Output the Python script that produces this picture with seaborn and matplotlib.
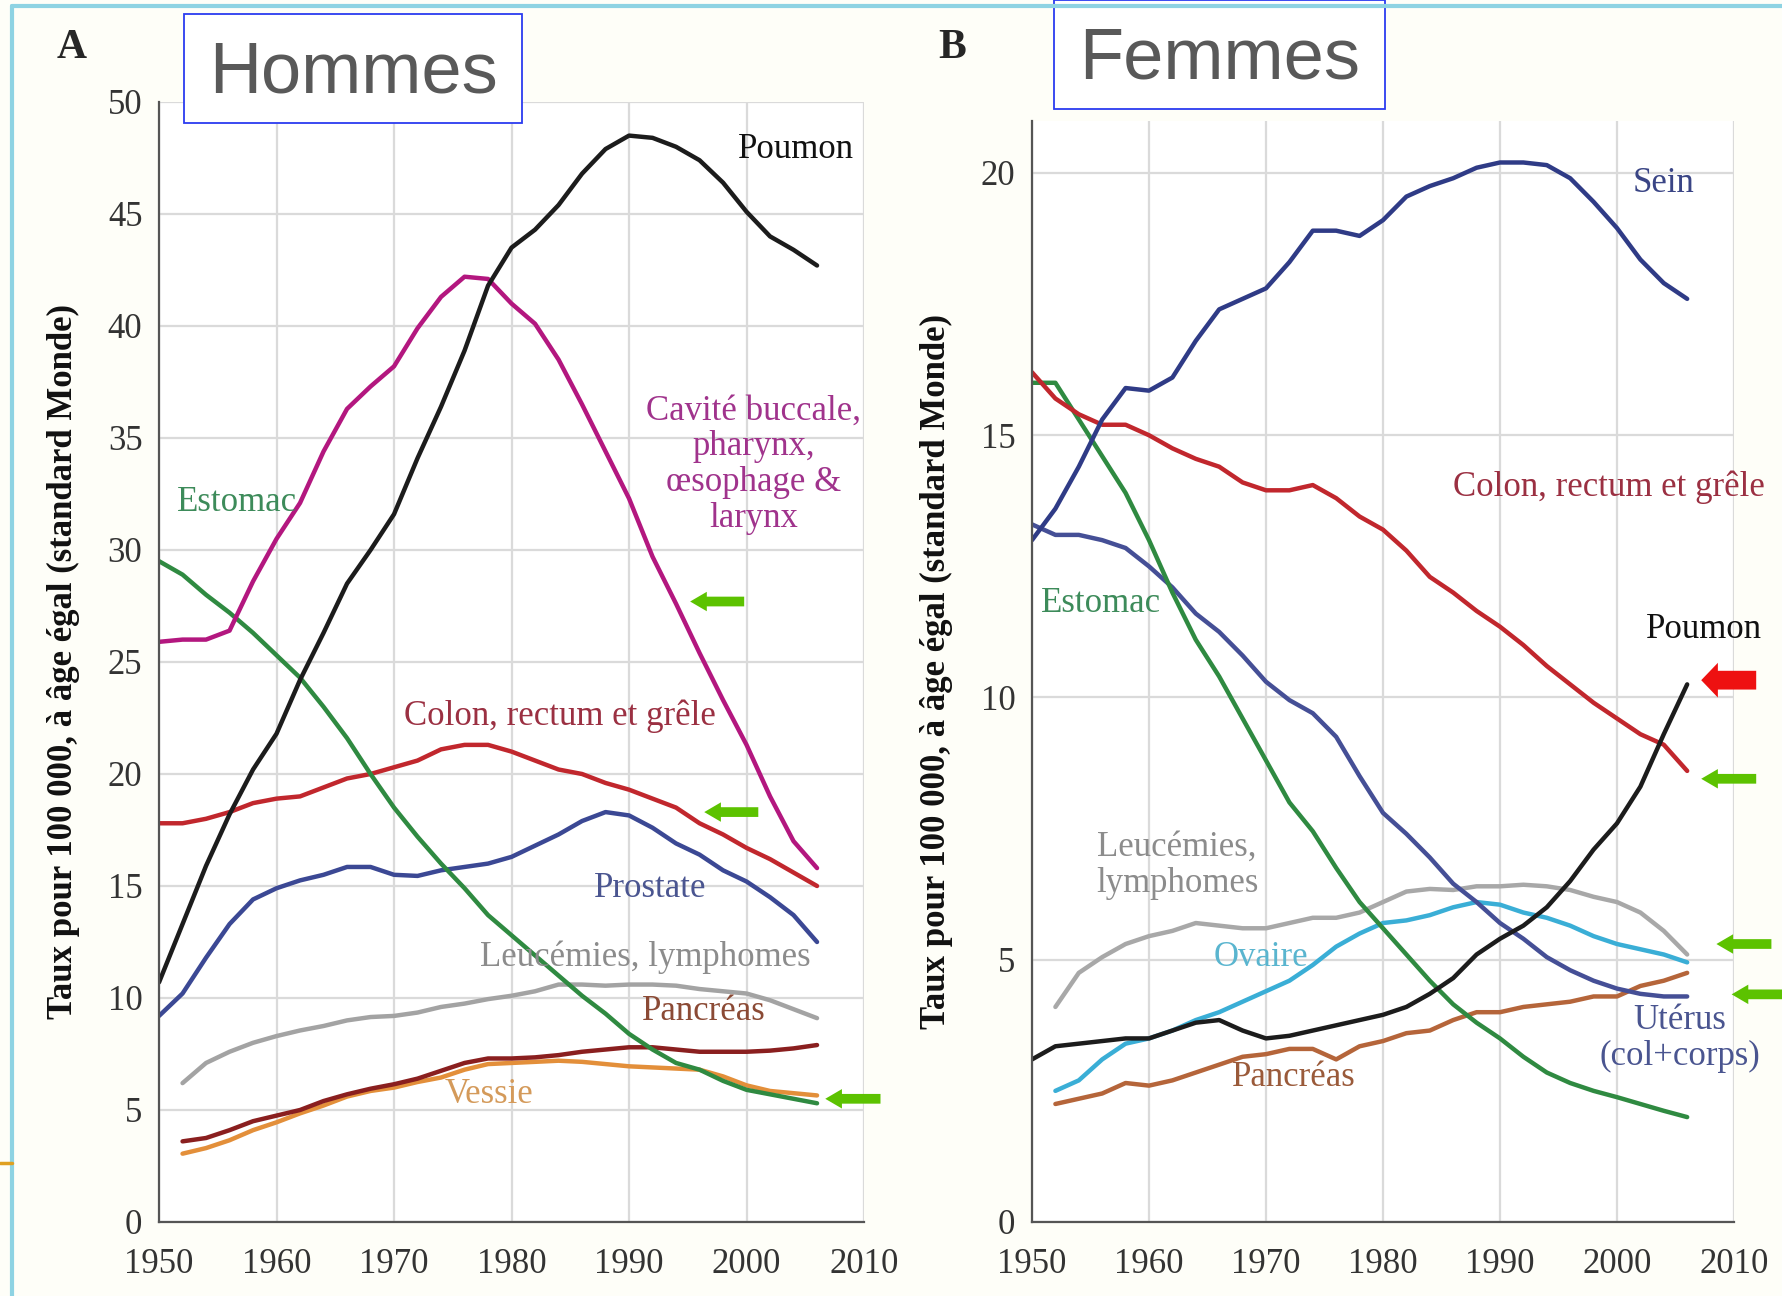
import numpy as np
import pandas as pd
import matplotlib
matplotlib.use("Agg")
import matplotlib.pyplot as plt
from matplotlib.lines import Line2D
from matplotlib.patches import FancyBboxPatch
import seaborn as sns

# ---------------------------------------------
# DATA  (taux pour 100 000, standard Monde)
# ---------------------------------------------
years = list(range(1950, 2007, 2))          # 1950 ... 2006
years_52 = list(range(1952, 2007, 2))       # series starting in 1952

# --- Hommes (A)
h_poumon = [10.7, 13.3, 15.9, 18.2, 20.2, 21.8, 24.2, 26.3, 28.5, 30.0, 31.6, 34.1, 36.4, 38.9, 41.8,
            43.5, 44.3, 45.4, 46.8, 47.9, 48.5, 48.4, 48.0, 47.4, 46.4, 45.1, 44.0, 43.4, 42.7]
h_bouche = [25.9, 26.0, 26.0, 26.4, 28.6, 30.5, 32.1, 34.4, 36.3, 37.3, 38.2, 39.9, 41.3, 42.2, 42.1,
            41.0, 40.1, 38.5, 36.5, 34.4, 32.3, 29.7, 27.6, 25.4, 23.3, 21.3, 19.0, 17.0, 15.8]
h_estomac = [29.5, 28.9, 28.0, 27.2, 26.3, 25.3, 24.3, 23.0, 21.6, 20.0, 18.5, 17.2, 16.0, 14.9, 13.7,
             12.8, 11.9, 11.0, 10.1, 9.3, 8.4, 7.7, 7.1, 6.8, 6.3, 5.9, 5.7, 5.5, 5.3]
h_colon = [17.8, 17.8, 18.0, 18.3, 18.7, 18.9, 19.0, 19.4, 19.8, 20.0, 20.3, 20.6, 21.1, 21.3, 21.3,
           21.0, 20.6, 20.2, 20.0, 19.6, 19.3, 18.9, 18.5, 17.8, 17.3, 16.7, 16.2, 15.6, 15.0]
h_prostate = [9.2, 10.2, 11.8, 13.3, 14.4, 14.9, 15.25, 15.5, 15.85, 15.85, 15.5, 15.45, 15.7, 15.85, 16.0,
              16.3, 16.8, 17.3, 17.9, 18.3, 18.15, 17.6, 16.9, 16.4, 15.7, 15.2, 14.5, 13.7, 12.5]
h_leuc = [6.2, 7.1, 7.6, 8.0, 8.3, 8.55, 8.75, 9.0, 9.15, 9.2, 9.35, 9.6, 9.75, 9.95,
          10.1, 10.3, 10.6, 10.6, 10.55, 10.6, 10.6, 10.55, 10.4, 10.3, 10.2, 9.9, 9.5, 9.1]
h_pancreas = [3.6, 3.75, 4.1, 4.5, 4.75, 5.0, 5.4, 5.7, 5.95, 6.15, 6.4, 6.75, 7.1, 7.3,
              7.3, 7.35, 7.45, 7.6, 7.7, 7.8, 7.8, 7.7, 7.6, 7.6, 7.6, 7.65, 7.75, 7.9]
h_vessie = [3.05, 3.3, 3.65, 4.1, 4.45, 4.85, 5.2, 5.6, 5.85, 6.0, 6.25, 6.45, 6.8, 7.05,
            7.1, 7.15, 7.2, 7.15, 7.05, 6.95, 6.9, 6.85, 6.8, 6.5, 6.1, 5.85, 5.75, 5.65]

# --- Femmes (B)
f_sein = [13.0, 13.6, 14.4, 15.3, 15.9, 15.85, 16.1, 16.8, 17.4, 17.6, 17.8, 18.3, 18.9, 18.9, 18.8,
          19.1, 19.55, 19.75, 19.9, 20.1, 20.2, 20.2, 20.15, 19.9, 19.45, 18.95, 18.35, 17.9, 17.6]
f_colon = [16.2, 15.7, 15.4, 15.2, 15.2, 15.0, 14.75, 14.55, 14.4, 14.1, 13.95, 13.95, 14.05, 13.8, 13.45,
           13.2, 12.8, 12.3, 12.0, 11.65, 11.35, 11.0, 10.6, 10.25, 9.9, 9.6, 9.3, 9.1, 8.6]
f_estomac = [16.0, 16.0, 15.3, 14.6, 13.9, 13.0, 12.0, 11.1, 10.4, 9.6, 8.8, 8.0, 7.45, 6.75, 6.1,
             5.6, 5.1, 4.6, 4.15, 3.8, 3.5, 3.15, 2.85, 2.65, 2.5, 2.38, 2.25, 2.12, 2.0]
f_uterus = [13.3, 13.1, 13.1, 13.0, 12.85, 12.5, 12.1, 11.6, 11.25, 10.8, 10.3, 9.95, 9.7, 9.25, 8.5,
            7.8, 7.4, 6.95, 6.45, 6.1, 5.7, 5.4, 5.05, 4.8, 4.6, 4.45, 4.35, 4.3, 4.3]
f_poumon = [3.1, 3.35, 3.4, 3.45, 3.5, 3.5, 3.65, 3.8, 3.85, 3.65, 3.5, 3.55, 3.65, 3.75, 3.85,
            3.95, 4.1, 4.35, 4.65, 5.1, 5.4, 5.65, 6.0, 6.5, 7.1, 7.6, 8.3, 9.3, 10.25]
f_leuc = [4.1, 4.75, 5.05, 5.3, 5.45, 5.55, 5.7, 5.65, 5.6, 5.6, 5.7, 5.8, 5.8, 5.9,
          6.1, 6.3, 6.35, 6.33, 6.4, 6.4, 6.43, 6.4, 6.33, 6.2, 6.1, 5.9, 5.55, 5.1]
f_ovaire = [2.5, 2.7, 3.1, 3.4, 3.5, 3.65, 3.85, 4.0, 4.2, 4.4, 4.6, 4.9, 5.25, 5.5,
            5.7, 5.75, 5.85, 6.0, 6.1, 6.05, 5.9, 5.8, 5.65, 5.45, 5.3, 5.2, 5.1, 4.95]
f_pancreas = [2.25, 2.35, 2.45, 2.65, 2.6, 2.7, 2.85, 3.0, 3.15, 3.2, 3.3, 3.3, 3.1, 3.35,
              3.45, 3.6, 3.65, 3.85, 4.0, 4.0, 4.1, 4.15, 4.2, 4.3, 4.3, 4.5, 4.6, 4.75]

# ---------------------------------------------
# TABLES FOR SEABORN
# ---------------------------------------------
def long_table(series):
    parts = []
    for name, (yrs, vals) in series.items():
        parts.append(pd.DataFrame({"annee": yrs, "taux": vals, "site": name}))
    return pd.concat(parts, ignore_index=True)

df_h = long_table({
    "Vessie": (years_52, h_vessie),
    "Pancreas": (years_52, h_pancreas),
    "Leucemies": (years_52, h_leuc),
    "Prostate": (years, h_prostate),
    "Colon": (years, h_colon),
    "Estomac": (years, h_estomac),
    "Bouche": (years, h_bouche),
    "Poumon": (years, h_poumon),
})
df_f = long_table({
    "Pancreas": (years_52, f_pancreas),
    "Ovaire": (years_52, f_ovaire),
    "Leucemies": (years_52, f_leuc),
    "Uterus": (years, f_uterus),
    "Estomac": (years, f_estomac),
    "Colon": (years, f_colon),
    "Sein": (years, f_sein),
    "Poumon": (years, f_poumon),
})

pal_h = {"Poumon": "#1c1c1c", "Bouche": "#b3177f", "Estomac": "#2f8a41", "Colon": "#c1272d",
         "Prostate": "#3b4894", "Leucemies": "#a3a3a3", "Pancreas": "#8a1f1f", "Vessie": "#e38f3a"}
pal_f = {"Poumon": "#1c1c1c", "Sein": "#2f3b86", "Estomac": "#2f8a41", "Colon": "#c1272d",
         "Uterus": "#454f96", "Leucemies": "#a8a8a8", "Pancreas": "#b5653a", "Ovaire": "#3aaed6"}

# ---------------------------------------------
# FIGURE
# ---------------------------------------------
sns.set_theme(style="whitegrid")
plt.rcParams["font.family"] = ["Liberation Serif", "DejaVu Serif"]

fig = plt.figure(figsize=(17.83, 12.96), dpi=100, facecolor="#fefef8")
axA = fig.add_axes([0.0892, 0.0571, 0.3954, 0.8642])
axB = fig.add_axes([0.5788, 0.0571, 0.3937, 0.8499])

ylab = "Taux pour 100 000, à âge égal (standard Monde)"

for ax, df, pal, ymax, yticks in [(axA, df_h, pal_h, 50, range(0, 51, 5)),
                                  (axB, df_f, pal_f, 21, range(0, 21, 5))]:
    ax.set_facecolor("white")
    sns.lineplot(data=df, x="annee", y="taux", hue="site", palette=pal,
                 linewidth=3.2, legend=False, ax=ax)
    ax.set_xlim(1950, 2010)
    ax.set_ylim(0, ymax)
    ax.set_xticks(range(1950, 2011, 10))
    ax.set_yticks(list(yticks))
    ax.grid(True, color="#dadada", linewidth=1.6)
    for s in ["top", "right"]:
        ax.spines[s].set_visible(False)
    for s in ["left", "bottom"]:
        ax.spines[s].set_color("#555555")
        ax.spines[s].set_linewidth(1.6)
    ax.tick_params(axis="both", labelsize=25, colors="#333333", length=7, width=1.4,
                   direction="out", pad=8)
    ax.tick_params(axis="x", pad=12)
    ax.tick_params(axis="y", length=4)
    ax.set_xlabel("")
    ax.set_ylabel(ylab, fontsize=25, fontweight="bold", color="#111111", labelpad=20)

# ---------------------------------------------
# LABELS ON CURVES
# ---------------------------------------------
fs = 25
ls = 1.12
axA.text(2004.2, 47.9, "Poumon", color="#111111", fontsize=fs, ha="center", va="center")
axA.text(2000.6, 33.8, "Cavité buccale,\npharynx,\nœsophage &\nlarynx", color="#a0338c",
         fontsize=fs, ha="center", va="center", linespacing=ls)
axA.text(1951.5, 32.1, "Estomac", color="#3d8b5a", fontsize=fs, ha="left", va="center")
axA.text(1984.1, 22.6, "Colon, rectum et grêle", color="#9b3042", fontsize=fs, ha="center", va="center")
axA.text(1991.8, 14.9, "Prostate", color="#4a5590", fontsize=fs, ha="center", va="center")
axA.text(1991.4, 11.8, "Leucémies, lymphomes", color="#8c8c8c", fontsize=fs, ha="center", va="center")
axA.text(1996.4, 9.4, "Pancréas", color="#8b4a35", fontsize=fs, ha="center", va="center")
axA.text(1978.1, 5.7, "Vessie", color="#d49a5a", fontsize=fs, ha="center", va="center")

axB.text(2004.0, 19.8, "Sein", color="#3a4585", fontsize=fs, ha="center", va="center")
axB.text(1999.3, 14.0, "Colon, rectum et grêle", color="#9b3042", fontsize=fs, ha="center",
         va="center", clip_on=False)
axB.text(1955.9, 11.8, "Estomac", color="#3d8b5a", fontsize=fs, ha="center", va="center")
axB.text(2007.4, 11.3, "Poumon", color="#111111", fontsize=fs, ha="center", va="center", clip_on=False)
axB.text(1962.4, 6.8, "Leucémies,\nlymphomes", color="#8c8c8c", fontsize=fs, ha="center",
         va="center", linespacing=ls)
axB.text(1969.6, 5.05, "Ovaire", color="#5ab5cf", fontsize=fs, ha="center", va="center")
axB.text(2005.4, 3.5, "Utérus\n(col+corps)", color="#4a5590", fontsize=fs, ha="center",
         va="center", linespacing=ls, clip_on=False)
axB.text(1972.4, 2.75, "Pancréas", color="#9a5a3a", fontsize=fs, ha="center", va="center")

# ---------------------------------------------
# ARROWS
# ---------------------------------------------
green = "simple,head_length=1.2,head_width=1.4,tail_width=0.7"
red = "simple,head_length=1.2,head_width=2.5,tail_width=1.35"
for ax, tip, tail, col, sty in [
    (axA, (1995.2, 27.7), (1999.8, 27.7), "#5cc200", green),
    (axA, (1996.4, 18.3), (2001.0, 18.3), "#5cc200", green),
    (axA, (2006.7, 5.5), (2011.4, 5.5), "#5cc200", green),
    (axB, (2007.2, 10.33), (2011.9, 10.33), "#ee1111", red),
    (axB, (2007.2, 8.45), (2011.9, 8.45), "#5cc200", green),
    (axB, (2008.5, 5.3), (2013.2, 5.3), "#5cc200", green),
    (axB, (2009.8, 4.34), (2014.5, 4.34), "#5cc200", green),
]:
    ax.annotate("", xy=tip, xytext=tail, annotation_clip=False,
                arrowprops=dict(arrowstyle=sty, color=col, mutation_scale=10,
                                shrinkA=0, shrinkB=0, lw=0))

# ---------------------------------------------
# PANEL LETTERS, TITLE BOXES, FRAME
# ---------------------------------------------
fig.text(0.040, 0.963, "A", fontsize=30, fontweight="bold", ha="center", va="center")
fig.text(0.534, 0.963, "B", fontsize=30, fontweight="bold", ha="center", va="center")

for x0, y0, w, h, label in [(0.103, 0.905, 0.190, 0.084, "Hommes"),
                            (0.591, 0.916, 0.186, 0.084, "Femmes")]:
    fig.add_artist(FancyBboxPatch((x0, y0), w, h, boxstyle="square,pad=0",
                                  transform=fig.transFigure, facecolor="white",
                                  edgecolor="#2b3cf0", linewidth=1.3))
    fig.text(x0 + w / 2, y0 + h / 2 - 0.004, label, fontsize=52, color="#595959",
             ha="center", va="center", family=["Liberation Sans", "DejaVu Sans"])

fig.add_artist(Line2D([0.0065, 1.0], [0.9955, 0.9955], color="#8ed3e3", lw=3,
                      transform=fig.transFigure))
fig.add_artist(Line2D([0.0065, 0.0065], [0.0, 0.9955], color="#8ed3e3", lw=3,
                      transform=fig.transFigure))
fig.add_artist(Line2D([0.0, 0.0065], [0.103, 0.103], color="#e0a020", lw=2.5,
                      transform=fig.transFigure))

plt.savefig("out.png", dpi=100, facecolor=fig.get_facecolor())
